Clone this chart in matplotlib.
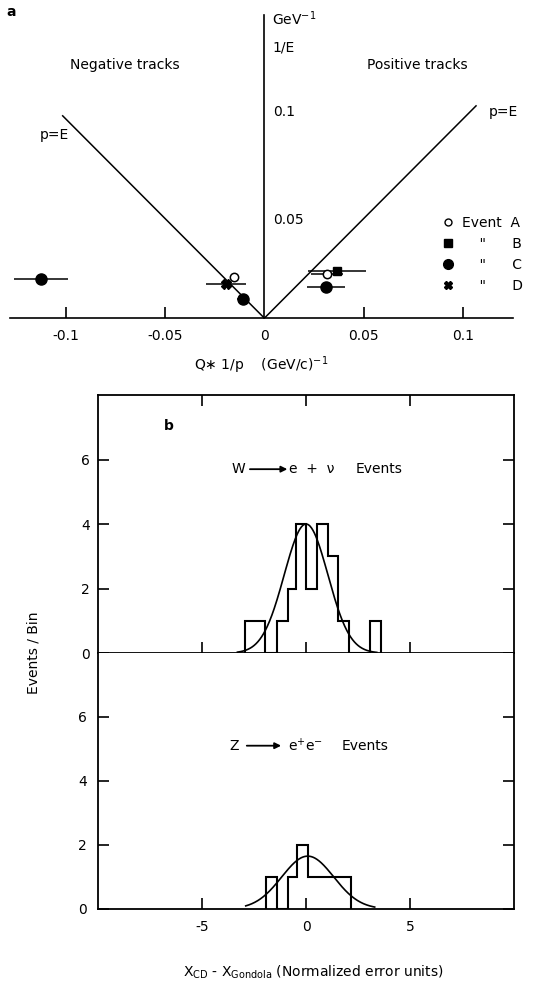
import numpy as np
import matplotlib
matplotlib.use("Agg")
import matplotlib.pyplot as plt
from matplotlib.lines import Line2D

# ---- panel a data: charge * 1/p vs 1/E for the electron tracks ----
ev_A_x = [-0.0155, 0.0317]
ev_A_y = [0.0205, 0.0220]
ev_A_xerr = [0.002, 0.008]

ev_B_x = [0.0365]
ev_B_y = [0.0235]
ev_B_xerr = [0.0145]

ev_C_x = [-0.1125, -0.011, 0.031]
ev_C_y = [0.0195, 0.0095, 0.0155]
ev_C_xerr = [0.0135, 0.003, 0.0095]

ev_D_x = [-0.0195]
ev_D_y = [0.0170]
ev_D_xerr = [0.0100]

pE_left = [-0.1015, 0.0]
pE_right = [0.0, 0.1065]

# ---- panel b data: histograms and gaussian fits ----
w_edges = [-2.95, -1.98, -1.41, -0.89, -0.47, 0.0, 0.53, 1.05, 1.54, 2.05, 3.07, 3.6]
w_counts = [1, 0, 1, 2, 4, 2, 4, 3, 1, 0, 1]
w_fit = dict(amp=4.0, mu=0.0, sigma=1.05, lo=-3.3, hi=3.4)

z_edges = [-1.91, -1.41, -0.89, -0.44, 0.08, 2.15]
z_counts = [1, 0, 1, 2, 1]
z_fit = dict(amp=1.65, mu=0.08, sigma=1.25, lo=-2.9, hi=3.3)

plt.rcParams['font.family'] = 'DejaVu Sans'
plt.rcParams['font.size'] = 10
plt.rcParams['axes.unicode_minus'] = False

fig = plt.figure(figsize=(5.36, 9.85), dpi=100)

# ================= panel a =================
ax = fig.add_axes([0.0187, 0.677, 0.938, 0.3076])
ax.set_xlim(-0.128, 0.125)
ax.set_ylim(0, 0.152)

ax.spines['top'].set_visible(False)
ax.spines['left'].set_visible(False)
ax.spines['right'].set_position(('data', 0))
ax.spines['right'].set_linewidth(1.2)
ax.spines['bottom'].set_linewidth(1.2)
ax.yaxis.tick_right()
ax.set_yticks([0.05, 0.1])
ax.set_yticklabels(['0.05', '0.1'])
ax.tick_params(axis='y', length=0, pad=6, labelsize=10)
# the 0.1 label sits a little above its value in the original
ax.get_yticklabels()[1].set_va('bottom')

ax.set_xticks([-0.1, -0.05, 0, 0.05, 0.1])
ax.set_xticklabels(['-0.1', '-0.05', '0', '0.05', '0.1'])
ax.tick_params(axis='x', direction='in', length=8, width=1.2, pad=8, labelsize=10)
ax.xaxis.get_major_ticks()[2].tick1line.set_visible(False)
ax.set_xlabel('Q$\\ast$ 1/p    (GeV/c)$^{-1}$', fontsize=10, labelpad=8)

ax.plot(pE_left, [-v for v in pE_left], color='black', lw=1.1)
ax.plot(pE_right, pE_right, color='black', lw=1.1)

ebkw = dict(color='black', ecolor='black', elinewidth=1.1, capsize=0, linestyle='none')
ax.errorbar(ev_A_x, ev_A_y, xerr=ev_A_xerr, marker='o', ms=6,
            mfc='white', mec='black', mew=1.1, **ebkw)
ax.errorbar(ev_B_x, ev_B_y, xerr=ev_B_xerr, marker='s', ms=6, **ebkw)
ax.errorbar(ev_C_x, ev_C_y, xerr=ev_C_xerr, marker='o', ms=8, **ebkw)
ax.errorbar(ev_D_x, ev_D_y, xerr=ev_D_xerr, marker='X', ms=7, **ebkw)

handles = [
    Line2D([], [], marker='o', ms=5, mfc='white', mec='black', mew=1.0, ls='none'),
    Line2D([], [], marker='s', ms=6, color='black', ls='none'),
    Line2D([], [], marker='o', ms=7, color='black', ls='none'),
    Line2D([], [], marker='X', ms=6, color='black', ls='none'),
]
labels = ['Event  A', '    "      B', '    "      C', '    "      D']
ax.legend(handles, labels, loc='upper left', bbox_to_anchor=(0.846, 0.36),
          frameon=False, handlelength=0.8, handletextpad=0.6,
          labelspacing=0.5, borderpad=0, fontsize=10)

ax.text(-0.070, 0.127, 'Negative tracks', ha='center', va='center', fontsize=10)
ax.text(0.077, 0.127, 'Positive tracks', ha='center', va='center', fontsize=10)
ax.text(-0.1055, 0.092, 'p=E', ha='center', va='center', fontsize=10)
ax.text(0.1205, 0.1035, 'p=E', ha='center', va='center', fontsize=10)
ax.text(0.004, 0.150, 'GeV$^{-1}$', ha='left', va='center', fontsize=10)
ax.text(0.004, 0.136, '1/E', ha='left', va='center', fontsize=10)
fig.text(0.012, 0.988, 'a', fontsize=10, fontweight='bold', va='center')

# ================= panel b =================
ax_w = fig.add_axes([0.183, 0.337, 0.776, 0.262])
ax_z = fig.add_axes([0.183, 0.0772, 0.776, 0.260])


def gauss_curve(p):
    xs = np.linspace(p['lo'], p['hi'], 300)
    return xs, p['amp'] * np.exp(-0.5 * ((xs - p['mu']) / p['sigma']) ** 2)


for a, edges, counts, fit in [(ax_w, w_edges, w_counts, w_fit),
                              (ax_z, z_edges, z_counts, z_fit)]:
    a.set_xlim(-10, 10)
    a.set_ylim(0, 8)
    a.stairs(counts, edges, baseline=0, color='black', lw=1.5)
    gx, gy = gauss_curve(fit)
    a.plot(gx, gy, color='black', lw=1.2)
    a.set_xticks([-5, 0, 5])
    a.set_yticks([0, 2, 4, 6])
    for s in a.spines.values():
        s.set_linewidth(1.3)

ax_w.tick_params(direction='in', length=8, width=1.2, top=True, right=True,
                 labelbottom=False, labelsize=10, pad=6)
ax_z.tick_params(direction='in', length=8, width=1.2, top=False, right=True,
                 labelsize=10, pad=8)
ax_z.spines['top'].set_visible(False)

ax_w.text(0.17, 0.88, 'b', transform=ax_w.transAxes, fontsize=10,
          fontweight='bold', va='center', ha='center')

# W -> e + nu
ax_w.text(-3.25, 5.7, 'W', ha='center', va='center', fontsize=10)
ax_w.annotate('', xy=(-0.9, 5.7), xytext=(-2.7, 5.7),
              arrowprops=dict(arrowstyle='-|>', color='black', lw=1.3,
                              mutation_scale=9, shrinkA=0, shrinkB=0))
ax_w.text(-0.8, 5.7, 'e  +  ν', ha='left', va='center', fontsize=10)
ax_w.text(2.4, 5.7, 'Events', ha='left', va='center', fontsize=10)

# Z -> e+ e-
ax_z.text(-3.45, 5.1, 'Z', ha='center', va='center', fontsize=10)
ax_z.annotate('', xy=(-1.2, 5.1), xytext=(-2.85, 5.1),
              arrowprops=dict(arrowstyle='-|>', color='black', lw=1.3,
                              mutation_scale=9, shrinkA=0, shrinkB=0))
ax_z.text(-0.85, 5.1, 'e$^{+}$e$^{-}$', ha='left', va='center', fontsize=10)
ax_z.text(1.7, 5.1, 'Events', ha='left', va='center', fontsize=10)

fig.text(0.062, 0.337, 'Events / Bin', rotation=90, ha='center', va='center',
         fontsize=10)
fig.text(0.585, 0.013, '$\\mathregular{X_{CD}}$ - $\\mathregular{X_{Gondola}}$ (Normalized error units)',
         ha='center', va='center', fontsize=10)

fig.savefig('out.png', dpi=100)
